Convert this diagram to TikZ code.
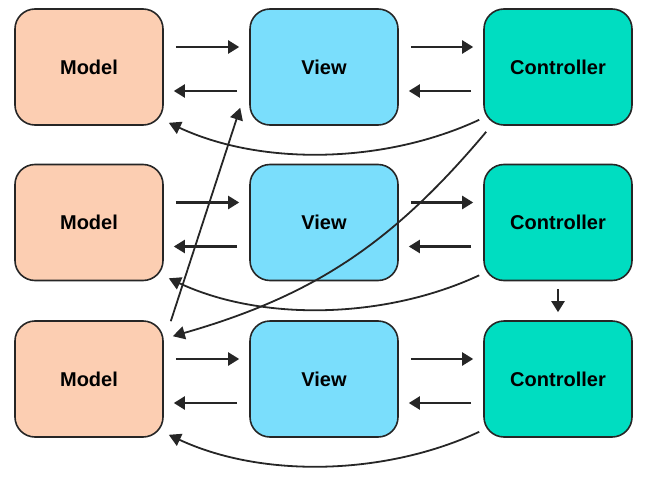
\documentclass[tikz,border=0pt]{standalone}
\usepackage{fontspec}
\setmainfont{Liberation Sans}
\usetikzlibrary{arrows.meta}
\definecolor{modelcol}{RGB}{252,206,178}
\definecolor{viewcol}{RGB}{122,222,252}
\definecolor{ctrlcol}{RGB}{0,221,193}
\tikzset{
    box/.style = {draw = black!85, line width = 1.6pt, rounded corners = 20pt,
        minimum width = 148pt, minimum height = 116pt,
        font = \fontsize{20}{23}\selectfont\bfseries},
    arr/.style = {draw = black!85, line width = 2.2pt,
        -{Triangle[length = 11pt, width = 13pt]}},
    link/.style = {draw = black!85, line width = 1.8pt,
        -{Triangle[length = 12pt, width = 13pt]}}
}

\begin{document}
\begin{tikzpicture}[x = 1pt, y = 1pt]
    \useasboundingbox (0,0) rectangle (652,480);

    % First row
    \node[box, fill = modelcol] (M1) at (89,413) {Model};
    \node[box, fill = viewcol] (V1) at (324,413) {View};
    \node[box, fill = ctrlcol] (C1) at (558,413) {Controller};
    % Second row
    \node[box, fill = modelcol] (M2) at (89,257.5) {Model};
    \node[box, fill = viewcol] (V2) at (324,257.5) {View};
    \node[box, fill = ctrlcol] (C2) at (558,257.5) {Controller};
    % Third row
    \node[box, fill = modelcol] (M3) at (89,101) {Model};
    \node[box, fill = viewcol] (V3) at (324,101) {View};
    \node[box, fill = ctrlcol] (C3) at (558,101) {Controller};

    % Arrows inside the first row
    \draw[arr] ([xshift = 12pt, yshift = 20pt]M1.east) -- ([xshift = -10pt, yshift = 20pt]V1.west);
    \draw[arr] ([xshift = -12pt, yshift = -24pt]V1.west) -- ([xshift = 10pt, yshift = -24pt]M1.east);
    \draw[arr] ([xshift = 12pt, yshift = 20pt]V1.east) -- ([xshift = -10pt, yshift = 20pt]C1.west);
    \draw[arr] ([xshift = -12pt, yshift = -24pt]C1.west) -- ([xshift = 10pt, yshift = -24pt]V1.east);
    \draw[link] ([xshift = -4pt, yshift = 6pt]C1.south west) to[out = 205, in = -25, looseness = 0.85] ([xshift = 5pt, yshift = 3pt]M1.south east);

    % Arrows inside the second row
    \draw[arr] ([xshift = 12pt, yshift = 20pt]M2.east) -- ([xshift = -10pt, yshift = 20pt]V2.west);
    \draw[arr] ([xshift = -12pt, yshift = -24pt]V2.west) -- ([xshift = 10pt, yshift = -24pt]M2.east);
    \draw[arr] ([xshift = 12pt, yshift = 20pt]V2.east) -- ([xshift = -10pt, yshift = 20pt]C2.west);
    \draw[arr] ([xshift = -12pt, yshift = -24pt]C2.west) -- ([xshift = 10pt, yshift = -24pt]V2.east);
    \draw[link] ([xshift = -4pt, yshift = 6pt]C2.south west) to[out = 205, in = -25, looseness = 0.85] ([xshift = 5pt, yshift = 3pt]M2.south east);

    % Arrows inside the third row
    \draw[arr] ([xshift = 12pt, yshift = 20pt]M3.east) -- ([xshift = -10pt, yshift = 20pt]V3.west);
    \draw[arr] ([xshift = -12pt, yshift = -24pt]V3.west) -- ([xshift = 10pt, yshift = -24pt]M3.east);
    \draw[arr] ([xshift = 12pt, yshift = 20pt]V3.east) -- ([xshift = -10pt, yshift = 20pt]C3.west);
    \draw[arr] ([xshift = -12pt, yshift = -24pt]C3.west) -- ([xshift = 10pt, yshift = -24pt]V3.east);
    \draw[link] ([xshift = -4pt, yshift = 6pt]C3.south west) to[out = 205, in = -25, looseness = 0.85] ([xshift = 5pt, yshift = 3pt]M3.south east);

    % Links between the rows
    \draw[arr] ([yshift = -8pt]C2.south) -- ([yshift = 8pt]C3.north);
    \draw[link] ([xshift = 3pt, yshift = -6pt]C1.south west) to[out = 230, in = 16, looseness = 1] ([xshift = 9pt, yshift = -16pt]M3.north east);
    \draw[link] ([xshift = 7pt, yshift = -1pt]M3.north east) -- ([xshift = -9pt, yshift = 18pt]V1.south west);
\end{tikzpicture}
\end{document}
